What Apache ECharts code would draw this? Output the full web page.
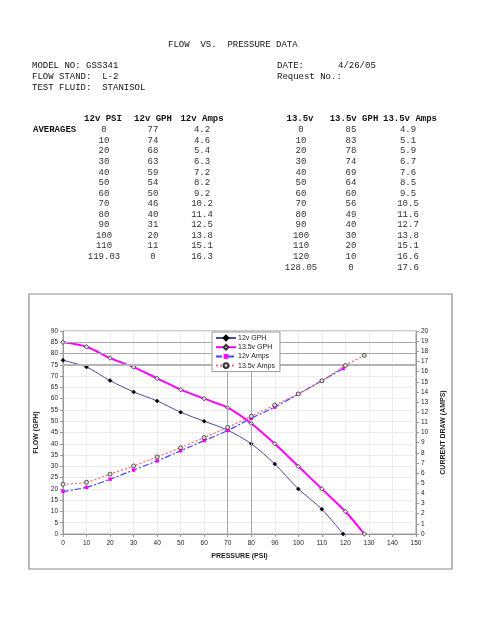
<!DOCTYPE html>
<html>
<head>
<meta charset="utf-8">
<script src="https://cdn.jsdelivr.net/npm/echarts@6/dist/echarts.min.js"></script>
<style>
    html, body { margin: 0; padding: 0; background: #fff; }
    #main { width: 495px; height: 640px; }
</style>
</head>
<body>
<div id="main"></div>
<script>
    // 12v test run
    var psi12 = [0, 10, 20, 30, 40, 50, 60, 70, 80, 90, 100, 110, 119.03]
    var gph12 = [77, 74, 68, 63, 59, 54, 50, 46, 40, 31, 20, 11, 0]
    var amps12 = [4.2, 4.6, 5.4, 6.3, 7.2, 8.2, 9.2, 10.2, 11.4, 12.5, 13.8, 15.1, 16.3]
    // 13.5v test run
    var psi135 = [0, 10, 20, 30, 40, 50, 60, 70, 80, 90, 100, 110, 120, 128.05]
    var gph135 = [85, 83, 78, 74, 69, 64, 60, 56, 49, 40, 30, 20, 10, 0]
    var amps135 = [4.9, 5.1, 5.9, 6.7, 7.6, 8.5, 9.5, 10.5, 11.6, 12.7, 13.8, 15.1, 16.6, 17.6]

    var seriesNames = ['12v GPH', '13.5v GPH', '12v Amps', '13.5v Amps']

    var mono = '"Liberation Mono", "DejaVu Sans Mono", monospace'
    var sans = '"Liberation Sans", Arial, sans-serif'

    function pairs(xs, ys) {
        var out = []
        for (var i = 0; i < xs.length; i++) {
            out.push([xs[i], ys[i]])
        }
        return out
    }

    function txt(x, y, s, opts) {
        opts = opts || {}
        return {
            type: 'text',
            x: x,
            y: y,
            silent: true,
            style: {
                text: s,
                font: (opts.bold ? 'bold ' : '') + '9px ' + mono,
                fill: opts.color || '#111',
                textAlign: opts.align || 'left',
                textVerticalAlign: 'middle'
            }
        }
    }

    // header text
    var graphics = [
        txt(168, 45, 'FLOW  VS.  PRESSURE DATA'),
        txt(32, 66, 'MODEL NO: GSS341'),
        txt(32, 77, 'FLOW STAND:  L-2'),
        txt(32, 88, 'TEST FLUID:  STANISOL'),
        txt(277, 66, 'DATE:'),
        txt(338, 66, '4/26/05'),
        txt(277, 77, 'Request No.:'),
        // table headings
        txt(103, 119, '12v PSI', {bold: true, align: 'center'}),
        txt(153, 119, '12v GPH', {bold: true, align: 'center'}),
        txt(202, 119, '12v Amps', {bold: true, align: 'center'}),
        txt(300, 119, '13.5v', {bold: true, align: 'center'}),
        txt(354, 119, '13.5v GPH', {bold: true, align: 'center'}),
        txt(410, 119, '13.5v Amps', {bold: true, align: 'center'}),
        txt(33, 130, 'AVERAGES', {bold: true})
    ]

    // table rows
    var rowH = 10.55
    for (var i = 0; i < psi12.length; i++) {
        var y = 130 + i * rowH
        graphics.push(txt(104, y, String(psi12[i]), {align: 'center', color: '#333'}))
        graphics.push(txt(153, y, String(gph12[i]), {align: 'center', color: '#333'}))
        graphics.push(txt(202, y, amps12[i].toFixed(1), {align: 'center', color: '#333'}))
    }
    for (var j = 0; j < psi135.length; j++) {
        var y2 = 130 + j * rowH
        graphics.push(txt(301, y2, String(psi135[j]), {align: 'center', color: '#333'}))
        graphics.push(txt(351, y2, String(gph135[j]), {align: 'center', color: '#333'}))
        graphics.push(txt(408, y2, amps135[j].toFixed(1), {align: 'center', color: '#333'}))
    }

    // chart frame
    graphics.push({
        type: 'rect',
        silent: true,
        z: -1,
        shape: {x: 29, y: 294, width: 423, height: 275},
        style: {fill: 'none', stroke: '#8c8c8c', lineWidth: 1.2}
    })

    var option = {
        animation: false,
        backgroundColor: '#fff',
        graphic: graphics,
        grid: {
            left: 63,
            right: 79,
            top: 331,
            height: 203,
            show: true,
            borderColor: '#999',
            borderWidth: 1
        },
        legend: {
            data: seriesNames,
            orient: 'vertical',
            left: 212,
            top: 332,
            z: 50,
            itemWidth: 20,
            itemHeight: 6,
            itemGap: 1.2,
            padding: [2, 5, 2, 3],
            backgroundColor: '#fff',
            borderColor: '#999',
            borderWidth: 1,
            textStyle: {fontFamily: sans, fontSize: 7, lineHeight: 8, color: '#222', padding: [0, 0, 0, -3]}
        },
        xAxis: {
            type: 'value',
            min: 0,
            max: 150,
            interval: 10,
            name: 'PRESSURE (PSI)',
            nameLocation: 'middle',
            nameGap: 19,
            nameTextStyle: {fontFamily: sans, fontSize: 7, fontWeight: 'bold', color: '#222'},
            axisLine: {lineStyle: {color: '#999'}},
            axisTick: {show: true, length: 3, lineStyle: {color: '#999'}},
            axisLabel: {fontFamily: sans, fontSize: 6.5, color: '#222', margin: 6},
            splitLine: {show: true, lineStyle: {color: '#ececec'}}
        },
        yAxis: [
            {
                type: 'value',
                min: 0,
                max: 90,
                interval: 5,
                name: 'FLOW (GPH)',
                nameLocation: 'middle',
                nameGap: 20,
                nameRotate: 90,
                nameTextStyle: {fontFamily: sans, fontSize: 7, fontWeight: 'bold', color: '#222'},
                axisLine: {show: true, lineStyle: {color: '#999'}},
                axisTick: {show: true, length: 3, lineStyle: {color: '#999'}},
                axisLabel: {fontFamily: sans, fontSize: 6.5, color: '#222', margin: 5},
                splitLine: {show: true, lineStyle: {color: '#ececec'}}
            },
            {
                type: 'value',
                position: 'right',
                min: 0,
                max: 20,
                interval: 1,
                name: 'CURRENT DRAW (AMPS)',
                nameLocation: 'middle',
                nameGap: 17,
                nameRotate: 90,
                nameTextStyle: {fontFamily: sans, fontSize: 7, fontWeight: 'bold', color: '#222'},
                axisLine: {show: true, lineStyle: {color: '#999'}},
                axisTick: {show: true, length: 3, lineStyle: {color: '#999'}},
                axisLabel: {fontFamily: sans, fontSize: 6.5, color: '#222', margin: 5},
                splitLine: {show: false}
            }
        ],
        series: [
            {
                name: '12v GPH',
                type: 'line',
                yAxisIndex: 0,
                smooth: 0.3,
                data: pairs(psi12, gph12),
                symbol: 'diamond',
                symbolSize: 4,
                lineStyle: {color: '#4a4aa0', width: 1},
                itemStyle: {color: '#000', borderColor: '#000', borderWidth: 0.5},
                z: 3,
                markLine: {
                    silent: true,
                    symbol: 'none',
                    label: {show: false},
                    lineStyle: {color: '#a8a8a8', type: 'solid', width: 1},
                    data: [
                        {yAxis: 85}, {yAxis: 80},
                        {yAxis: 75, lineStyle: {width: 2, color: '#b4b4b4'}},
                        {xAxis: 70}, {xAxis: 80}
                    ]
                }
            },
            {
                name: '13.5v GPH',
                type: 'line',
                yAxisIndex: 0,
                smooth: 0.3,
                data: pairs(psi135, gph135),
                symbol: 'diamond',
                symbolSize: 4.5,
                lineStyle: {color: '#ff00ff', width: 2},
                itemStyle: {color: '#ddd', borderColor: '#333', borderWidth: 0.8},
                z: 4
            },
            {
                name: '12v Amps',
                type: 'line',
                yAxisIndex: 1,
                smooth: 0.3,
                data: pairs(psi12, amps12),
                symbol: 'rect',
                symbolSize: 3.5,
                lineStyle: {color: '#4444ff', width: 1.2, type: [6, 2, 2, 2]},
                itemStyle: {color: '#ff00ff', borderColor: '#ff00ff', borderWidth: 0},
                z: 5
            },
            {
                name: '13.5v Amps',
                type: 'line',
                yAxisIndex: 1,
                smooth: 0.3,
                data: pairs(psi135, amps135),
                symbol: 'circle',
                symbolSize: 4,
                lineStyle: {color: '#ff6666', width: 1.2, type: [2, 2]},
                itemStyle: {color: '#ddd', borderColor: '#333', borderWidth: 0.8},
                z: 6
            }
        ]
    }

    var myChart = echarts.init(document.getElementById('main'))
    myChart.setOption(option)
</script>
</body>
</html>
